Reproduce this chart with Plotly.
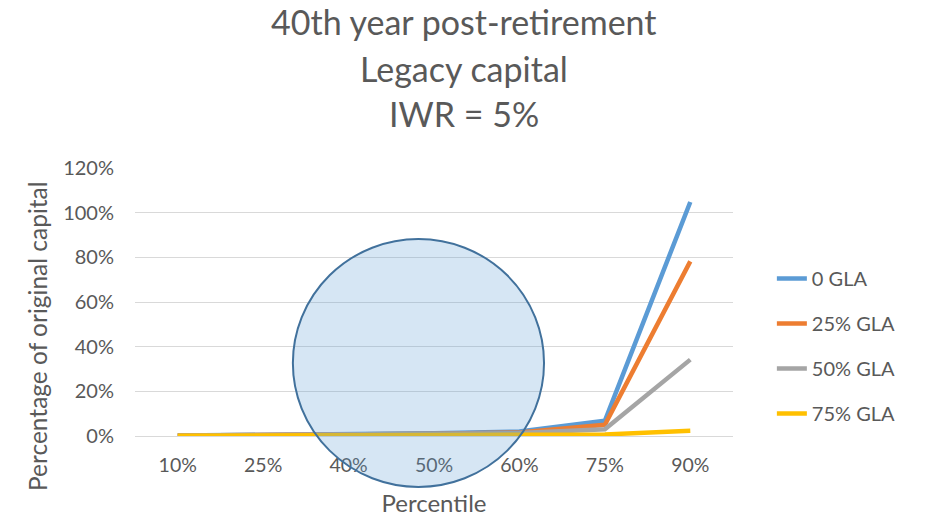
import plotly.graph_objects as go

# Percentile buckets on the x axis
percentiles = ["10%", "25%", "40%", "50%", "60%", "75%", "90%"]

# Legacy capital in the 40th year, as a fraction of original capital
gla_0 = [0.002, 0.005, 0.008, 0.012, 0.020, 0.068, 1.048]
gla_25 = [0.002, 0.004, 0.007, 0.010, 0.016, 0.050, 0.782]
gla_50 = [0.002, 0.004, 0.006, 0.009, 0.013, 0.030, 0.342]
gla_75 = [0.001, 0.002, 0.003, 0.005, 0.006, 0.007, 0.023]

series_names = ["0 GLA", "25% GLA", "50% GLA", "75% GLA"]
series_values = [gla_0, gla_25, gla_50, gla_75]
series_colors = ["#5B9BD5", "#ED7D31", "#A5A5A5", "#FFC000"]

title_lines = ["40th year post-retirement", "Legacy capital", "IWR = 5%"]
y_title = "Percentage of original capital"

FONT = "Lato, Carlito, Calibri, sans-serif"
TEXT = "#595959"
GRID = "#D9D9D9"

fig = go.Figure()
for i, (name, vals, col) in enumerate(zip(series_names, series_values, series_colors)):
    fig.add_trace(go.Scatter(
        x=percentiles, y=vals, name=name, mode="lines",
        line=dict(color=col, width=4.5),
        legendgroup=f"g{i}",
        cliponaxis=False,
    ))

# Three-line chart heading, evenly spaced above the plot
title_y = [1.545, 1.373, 1.205]
for line, ty in zip(title_lines, title_y):
    fig.add_annotation(
        text=line, xref="paper", yref="paper", x=0.55, y=ty,
        xanchor="center", yanchor="middle", showarrow=False,
        font=dict(family=FONT, size=34, color=TEXT),
    )

# Vertical axis caption, set slightly below the plot's midline
fig.add_annotation(
    text=y_title, xref="paper", yref="paper", x=-0.164, y=0.373,
    xanchor="center", yanchor="middle", textangle=-90, showarrow=False,
    font=dict(family=FONT, size=24.5, color=TEXT),
)

# Highlight ellipse around the middle percentiles (paper coordinates)
ellipse = dict(x0=0.264, x1=0.684, y0=-0.190, y1=0.735)
fig.add_shape(
    type="circle", xref="paper", yref="paper", layer="above",
    fillcolor="rgba(91,155,213,0.25)",
    line=dict(color="#41719C", width=2),
    **ellipse,
)

fig.update_layout(
    width=935, height=518,
    margin=dict(l=135, r=202, t=168, b=82, autoexpand=False),
    paper_bgcolor="white", plot_bgcolor="white",
    font=dict(family=FONT, color=TEXT, size=20),
    showlegend=True,
    legend=dict(
        x=1.065, xanchor="left", y=0.336, yanchor="middle",
        font=dict(family=FONT, size=20, color=TEXT),
        tracegroupgap=16, itemwidth=30,
        bgcolor="rgba(0,0,0,0)",
    ),
    xaxis=dict(
        type="category", range=[-0.5, 6.5], automargin=False,
        showgrid=False, zeroline=False, showline=False,
        ticks="", ticklabelstandoff=15,
        tickfont=dict(family=FONT, size=19.5, color=TEXT),
        title=dict(text="Percentile", standoff=20,
                   font=dict(family=FONT, size=24, color=TEXT)),
    ),
    yaxis=dict(
        range=[0, 1.2], dtick=0.2, tickformat=".0%", automargin=False,
        showgrid=True, gridcolor=GRID, gridwidth=1.3,
        zeroline=True, zerolinecolor=GRID, zerolinewidth=1.3,
        showline=False, ticks="", ticklabelstandoff=20,
        tickfont=dict(family=FONT, size=20, color=TEXT),
    ),
)

fig.write_html("out.html")
